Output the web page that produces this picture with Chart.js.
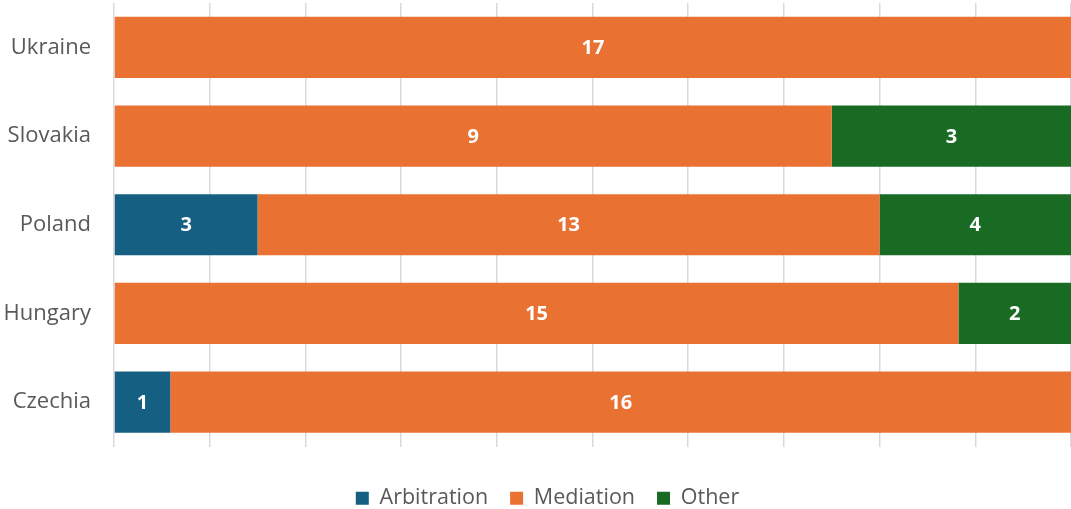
<!DOCTYPE html>
<html>
<head>
<meta charset="utf-8">
<script src="https://cdn.jsdelivr.net/npm/chart.js@4"></script>
<style>
  html, body { margin: 0; padding: 0; background: #fff; }
  #wrap { width: 1071px; height: 509px; }
</style>
</head>
<body>
<div id="wrap"><canvas id="chart" width="1071" height="509"></canvas></div>
<script>
// Conteos por país y tipo de resolución; el gráfico es 100 % apilado.
const categories = ['Ukraine', 'Slovakia', 'Poland', 'Hungary', 'Czechia'];
const arbitration = [0, 0, 3, 0, 1];
const mediation = [17, 9, 13, 15, 16];
const other = [0, 3, 4, 2, 0];

const COLORS = { arbitration: '#156082', mediation: '#e97132', other: '#196b24' };
const FONT = '"Open Sans", "Noto Sans", sans-serif';
const TEXT = '#595959';

const totals = categories.map((_, i) => arbitration[i] + mediation[i] + other[i]);
const pct = arr => arr.map((v, i) => v / totals[i] * 100);

// Etiquetas blancas centradas en cada segmento (valor original, no el %).
const segmentLabels = {
  id: 'segmentLabels',
  afterDatasetsDraw(chart) {
    const ctx = chart.ctx;
    ctx.save();
    ctx.fillStyle = '#fff';
    ctx.font = 'bold 20px ' + FONT;
    ctx.textAlign = 'center';
    ctx.textBaseline = 'middle';
    chart.data.datasets.forEach((ds, di) => {
      chart.getDatasetMeta(di).data.forEach((bar, j) => {
        const raw = ds.raw[j];
        if (!raw) return;
        ctx.fillText(String(raw), (bar.x + bar.base) / 2, bar.y + 1);
      });
    });
    ctx.restore();
  }
};

// En el original la leyenda queda un poco a la derecha del centro del lienzo.
const legendShift = {
  id: 'legendShift',
  afterLayout(chart) {
    if (!chart.legend) return;
    chart.legend.left += 12;
    chart.legend.right += 12;
  }
};

function dataset(label, values, color) {
  return {
    label,
    data: pct(values),
    raw: values,
    backgroundColor: color,
    borderWidth: 0,
    barPercentage: 0.69,
    categoryPercentage: 1
  };
}

new Chart(document.getElementById('chart'), {
  type: 'bar',
  data: {
    labels: categories,
    datasets: [
      dataset('Arbitration', arbitration, COLORS.arbitration),
      dataset('Mediation', mediation, COLORS.mediation),
      dataset('Other', other, COLORS.other)
    ]
  },
  options: {
    indexAxis: 'y',
    responsive: false,
    animation: false,
    layout: { padding: { top: 3, right: 0, left: 0, bottom: -10 } },
    plugins: {
      legend: {
        position: 'bottom',
        labels: {
          color: TEXT,
          font: { family: FONT, size: 21.5 },
          boxWidth: 13,
          boxHeight: 13,
          padding: 22,
          useBorderRadius: false
        }
      },
      tooltip: { enabled: false }
    },
    scales: {
      x: {
        stacked: true,
        min: 0,
        max: 100,
        ticks: { display: false, stepSize: 10 },
        grid: { color: '#d9d9d9', lineWidth: 1.5, drawTicks: false },
        border: { display: false },
        afterFit: axis => { axis.height = 19; }
      },
      y: {
        stacked: true,
        ticks: { color: TEXT, font: { family: FONT, size: 22 }, padding: 23 },
        grid: { display: false, drawTicks: false },
        border: { display: false },
        afterFit: axis => {
          axis.width = 114;
          axis.paddingTop = 0;
          axis.paddingBottom = 0;
        }
      }
    }
  },
  plugins: [segmentLabels, legendShift]
});
</script>
</body>
</html>
